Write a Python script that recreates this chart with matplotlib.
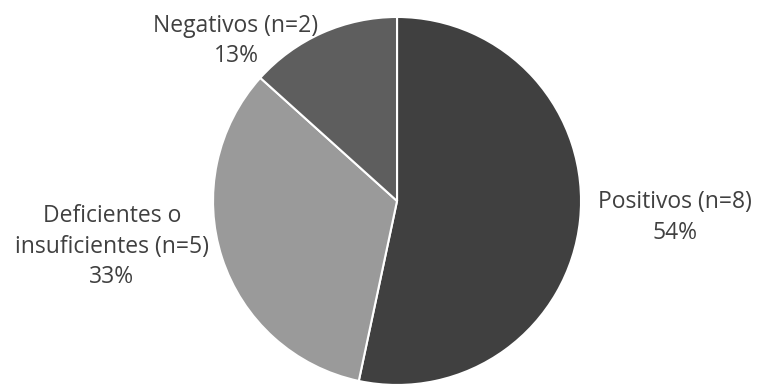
import numpy as np
import matplotlib.pyplot as plt

plt.rcParams['font.family'] = ['Open Sans', 'DejaVu Sans']

categorias = ['Positivos (n=8)', 'Deficientes o\ninsuficientes (n=5)', 'Negativos (n=2)']
valores = [8, 5, 2]
porcentajes = ['54%', '33%', '13%']
colores = ['#404040', '#9a9a9a', '#5e5e5e']

# posicion de cada etiqueta (centro del bloque de texto, en unidades del radio)
pos_etiquetas = [(1.51, -0.09), (-1.55, -0.25), (-0.875, 0.87)]

fig = plt.figure(figsize=(7.6, 3.91), dpi=100)
ax = fig.add_axes([0.2803, 0.0154, 0.4842, 0.9412])

wedges, _ = ax.pie(valores, colors=colores, startangle=90, counterclock=False,
                   radius=1, wedgeprops=dict(edgecolor='white', linewidth=1.5))
ax.set_xlim(-1, 1)
ax.set_ylim(-1, 1)
ax.set_aspect('equal')
ax.axis('off')

for cat, pct, (x, y) in zip(categorias, porcentajes, pos_etiquetas):
    ax.text(x, y, cat + '\n' + pct, ha='center', va='center', fontsize=16.5,
            color='#404040', linespacing=1.36, clip_on=False)

plt.savefig('out.png', dpi=100, facecolor='white')
